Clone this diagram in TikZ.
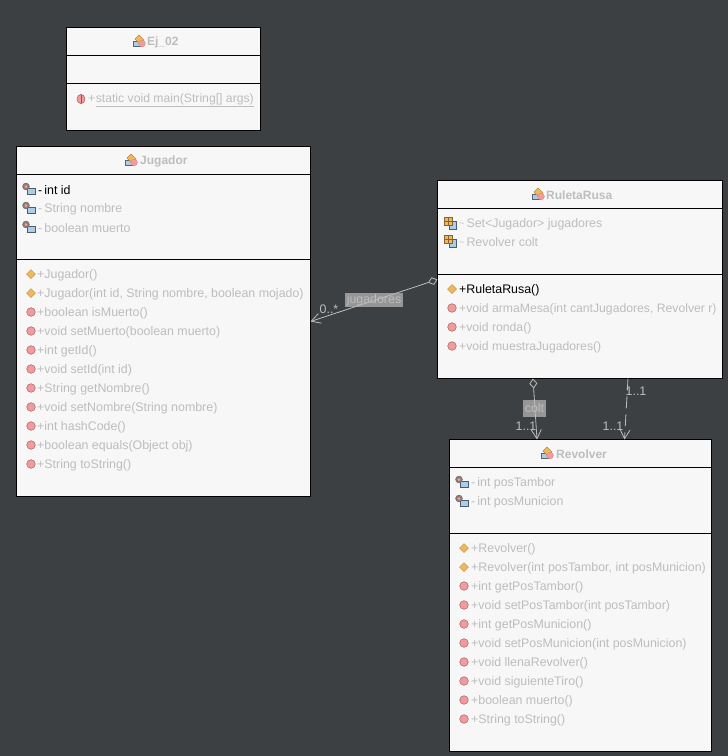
\documentclass[tikz,border=0pt]{standalone}
\usepackage{fontspec}
\setmainfont{Liberation Sans}
\usetikzlibrary{arrows.meta}
\definecolor{fondo}{HTML}{3C4043}
\definecolor{caja}{HTML}{F7F7F7}
\definecolor{gris}{HTML}{BDBDBD}
\definecolor{rotulo}{HTML}{969696}
\definecolor{rojo}{HTML}{F49A9A}
\definecolor{naranja}{HTML}{F0B85A}
\definecolor{azul}{HTML}{A9CDEB}
\tikzset{
    clase/.style={draw=black, fill=caja, line width=1pt, anchor=north west, inner sep=0pt, outer sep=0pt},
    titulo/.style={text=gris, font=\fontsize{12}{14}\selectfont\bfseries, anchor=west, inner sep=0pt, yshift=-1pt},
    fila/.style={text=gris, font=\fontsize{12.4}{14}\selectfont, anchor=west, inner sep=0pt, yshift=-1pt},
    multi/.style={text=gris, font=\fontsize{12.4}{14}\selectfont, inner sep=0pt},
    rotulo/.style={fill=rotulo, text=gris, font=\fontsize{12.4}{14}\selectfont, inner sep=1.5pt},
    enlace/.style={draw=gris, line width=0.8pt},
    iconMetodo/.pic={\fill[rojo, draw=black!35!rojo, line width=0.5pt] (0,0) circle (4.3pt);},
    iconMain/.pic={\fill[rojo, draw=black!35!rojo, line width=0.5pt] (0,0) ellipse (4pt and 4.6pt);
        \draw[black!45!rojo, line width=0.7pt] (0,-4) -- (0,4);},
    iconCtor/.pic={\fill[naranja, draw=black!20!naranja, line width=0.5pt] (-4.4,0) -- (0,-4.4) -- (4.4,0) -- (0,4.4) -- cycle;},
    iconClase/.pic={
        \fill[azul, draw=black!50!azul, line width=0.5pt] (-6,0) rectangle (2,5.5);
        \fill[naranja, draw=black!25!naranja, line width=0.4pt] (-4,-2) -- (0,-6) -- (5,-1) -- (1,3) -- cycle;
        \fill[rojo, draw=black!15!rojo, line width=0.3pt] (3,2.5) circle (3.4pt);},
    iconCampo/.pic={
        \fill[azul, draw=black!55!azul, line width=0.6pt] (-2,-1) rectangle (6,5.5);
        \fill[rojo!50!black!60!gris, draw=black!45!gris, line width=0.5pt] (-3,-2.5) circle (3.4pt);
        \fill[rojo!70!naranja] (-3,-2.5) circle (1.5pt);},
    iconPaquete/.pic={
        \fill[azul, draw=black!55!azul, line width=0.6pt] (-1,-2) rectangle (6,6);
        \fill[naranja, draw=black!45!naranja, line width=0.6pt] (-6,-6) rectangle (2,2);
        \draw[black!45!naranja, line width=0.4pt] (-2,-6) -- (-2,2) (-6,-2) -- (2,-2);}
}
\begin{document}
\begin{tikzpicture}[x=1pt,y=-1pt]
    % Fondo
    \fill[fondo] (0,0) rectangle (728,756);
    \useasboundingbox (0,0) rectangle (728,756);

    % Ej_02
    \node[clase, minimum width=194pt, minimum height=103pt] (ej) at (66.5,27.5) {};
    \draw (66.5,55) -- (260.5,55) (66.5,83) -- (260.5,83);
    \pic at (139,41) {iconClase};
    \node[titulo] (ejt) at (147,41) {Ej\_02};
    \pic at (81,99) {iconMain};
    \node[fila, font=\fontsize{12.2}{14}\selectfont] (ejm) at (88,99) {+\hspace{0.5pt}\underline{static void main(String[] args)}};

    % Jugador
    \node[clase, minimum width=294pt, minimum height=350pt] (jugador) at (16.5,146.5) {};
    \draw (16.5,174.5) -- (310.5,174.5) (16.5,259) -- (310.5,259);
    \pic at (131,160) {iconClase};
    \node[titulo] (jugt) at (140,160) {Jugador};
    \pic at (29,189) {iconCampo};
    \node[fila, text=black] (juga1) at (38,189) {-\,int id};
    \pic at (29,208) {iconCampo};
    \node[fila] (juga2) at (38,208) {-\,String nombre};
    \pic at (29,227) {iconCampo};
    \node[fila] (juga3) at (38,227) {-\,boolean muerto};
    \foreach \y/\t [count=\i] in {274/Jugador(), 293/{Jugador(int id, String nombre, boolean mojado)}} {
        \pic at (31,\y) {iconCtor};
        \node[fila] (jugc\i) at (37,\y) {+\t};
    }
    \foreach \y/\t [count=\i] in {312/boolean isMuerto(), 331/void setMuerto(boolean muerto), 350/int getId(),
        369/void setId(int id), 388/String getNombre(), 407/void setNombre(String nombre), 426/int hashCode(),
        445/boolean equals(Object obj), 464/String toString()} {
        \pic at (31,\y) {iconMetodo};
        \node[fila] (jugm\i) at (37,\y) {+\t};
    }

    % RuletaRusa
    \node[clase, minimum width=285pt, minimum height=198pt] (ruleta) at (437.5,180.5) {};
    \draw (437.5,208.5) -- (722.5,208.5) (437.5,274) -- (722.5,274);
    \pic at (538,194) {iconClase};
    \node[titulo] (rult) at (546,194) {RuletaRusa};
    \pic at (450,223) {iconPaquete};
    \node[fila] (rula1) at (459,223) {\raisebox{1pt}{\fontsize{9}{9}\selectfont\char"7E}\,Set<Jugador> jugadores};
    \pic at (450,241) {iconPaquete};
    \node[fila] (rula2) at (459,241.5) {\raisebox{1pt}{\fontsize{9}{9}\selectfont\char"7E}\,Revolver colt};
    \pic at (452,289) {iconCtor};
    \node[fila, text=black] (rulc1) at (459,289) {+RuletaRusa()};
    \foreach \y/\t [count=\i] in {308/{void armaMesa(int cantJugadores, Revolver r)}, 327/void ronda(), 346/void muestraJugadores()} {
        \pic at (452,\y) {iconMetodo};
        \node[fila, font=\fontsize{12.2}{14}\selectfont] (rulm\i) at (459,\y) {+\t};
    }

    % Revolver
    \node[clase, minimum width=262pt, minimum height=312pt] (revolver) at (449.5,439.5) {};
    \draw (449.5,467.5) -- (711.5,467.5) (449.5,533) -- (711.5,533);
    \pic at (547,453) {iconClase};
    \node[titulo] (revt) at (556,453) {Revolver};
    \pic at (462,482) {iconCampo};
    \node[fila] (reva1) at (471,482) {-\,int posTambor};
    \pic at (462,501) {iconCampo};
    \node[fila] (reva2) at (471,501) {-\,int posMunicion};
    \foreach \y/\t [count=\i] in {548/Revolver(), 567/{Revolver(int posTambor, int posMunicion)}} {
        \pic at (464,\y) {iconCtor};
        \node[fila] (revc\i) at (471,\y) {+\t};
    }
    \foreach \y/\t [count=\i] in {586/int getPosTambor(), 605/void setPosTambor(int posTambor), 624/int getPosMunicion(),
        643/void setPosMunicion(int posMunicion), 662/void llenaRevolver(), 681/void siguienteTiro(),
        700/boolean muerto(), 719/String toString()} {
        \pic at (464,\y) {iconMetodo};
        \node[fila] (revm\i) at (471,\y) {+\t};
    }

    % Rotulos
    \node[rotulo] (jugadores) at (374,300) {jugadores};
    \node[rotulo, minimum height=17pt] (colt) at (534.5,408.5) {colt};
    \node[multi] (mj) at (329,309) {0..*};
    \node[multi] (mc) at (526,426) {1..1};
    \node[multi] (md1) at (636,391) {1..1};
    \node[multi] (md2) at (613,426) {1..1};

    % Asociaciones
    \draw[enlace, {Diamond[open, length=10pt, width=8pt]}-{Straight Barb[length=9pt, width=10pt]}] (ruleta.west) -- (jugador.east);
    \draw[enlace, {Diamond[open, length=10pt, width=8pt]}-{Straight Barb[length=9pt, width=10pt]}] ([xshift=-47pt]ruleta.south) -- ([xshift=-43.5pt]revolver.north);
    \draw[enlace, dash pattern=on 12pt off 6pt, -{Straight Barb[length=9pt, width=10pt]}] ([xshift=48pt]ruleta.south) -- ([xshift=44pt]revolver.north);
\end{tikzpicture}
\end{document}
